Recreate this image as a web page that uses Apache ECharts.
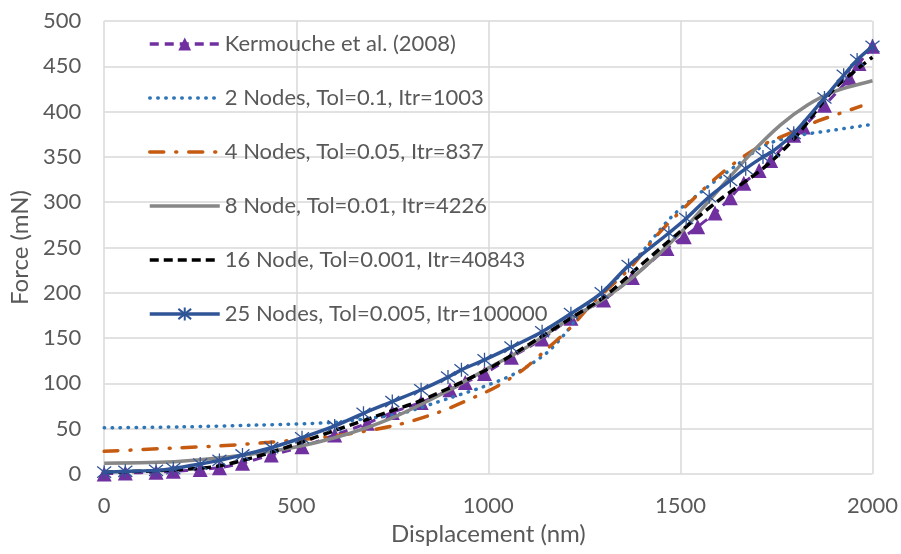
<!DOCTYPE html>
<html>
<head>
<meta charset="utf-8">
<script src="https://cdn.jsdelivr.net/npm/echarts@6/dist/echarts.min.js"></script>
<style>
  html, body { margin: 0; padding: 0; background: #fff; }
  #main { width: 901px; height: 554px; }
</style>
</head>
<body>
<div id="main"></div>
<script>
// values (displacement nm, force mN)
var kermoucheX = [0, 55, 135, 180, 250, 300, 360, 435, 515, 600, 685, 750, 825, 900, 940, 990, 1060, 1140, 1215, 1300, 1375, 1465, 1510, 1545, 1590, 1630, 1665, 1705, 1735, 1795, 1820, 1875, 1940, 1965, 2000];
var kermoucheY = [0, 1, 2, 3, 5, 7, 12, 21, 30, 43, 56, 68, 79, 93, 101, 111, 129, 149, 172, 192, 217, 249, 262, 273, 288, 305, 321, 335, 346, 374, 383, 407, 437, 453, 472];

var n2X = [0, 200, 400, 600, 700, 775, 900, 985, 1070, 1150, 1200, 1240, 1320, 1390, 1475, 1565, 1650, 1720, 1800, 1890, 2000];
var n2Y = [51, 52, 54, 57, 62, 67, 84, 96, 111, 133, 155, 177, 210, 240, 283, 315, 342, 363, 373, 379, 386];

var n4X = [0, 200, 300, 430, 600, 760, 870, 970, 1020, 1090, 1150, 1215, 1270, 1370, 1440, 1530, 1610, 1700, 1800, 1860, 1915, 1970];
var n4Y = [25, 29, 31, 35, 42, 54, 68, 86, 96, 115, 137, 162, 188, 228, 264, 302, 333, 360, 379, 390, 398, 406];

var n8X = [0, 200, 435, 600, 750, 900, 1000, 1100, 1200, 1300, 1390, 1500, 1600, 1680, 1760, 1830, 1900, 2000];
var n8Y = [12, 14, 25, 40, 62, 93, 117, 140, 168, 193, 222, 266, 314, 352, 385, 407, 422, 434];

var n16X = [0, 100, 200, 300, 435, 600, 750, 830, 1000, 1140, 1215, 1300, 1390, 1495, 1600, 1720, 1800, 1900, 2000];
var n16Y = [2, 3, 5, 9, 24, 48, 70, 82, 116, 152, 172, 195, 228, 266, 302, 339, 372, 425, 460];

var n25X = [0, 55, 135, 180, 250, 300, 360, 435, 515, 600, 675, 750, 825, 895, 930, 990, 1060, 1140, 1215, 1295, 1365, 1470, 1515, 1575, 1630, 1670, 1715, 1740, 1795, 1875, 1925, 1960, 2000];
var n25Y = [2, 3, 4, 6, 11, 15, 21, 29, 40, 53, 67, 80, 93, 107, 115, 126, 140, 157, 177, 200, 230, 266, 282, 306, 324, 337, 350, 356, 376, 415, 440, 457, 472];

var seriesNames = ['Kermouche et al. (2008)', '2 Nodes, Tol=0.1, Itr=1003', '4 Nodes, Tol=0.05, Itr=837',
  '8 Node, Tol=0.01, Itr=4226', '16 Node, Tol=0.001, Itr=40843', '25 Nodes, Tol=0.005, Itr=100000'];
var xTicks = [0, 500, 1000, 1500, 2000];
var yTicks = [0, 50, 100, 150, 200, 250, 300, 350, 400, 450, 500];

function pairs(xs, ys) {
  var out = [];
  for (var i = 0; i < xs.length; i++) {
    out.push([xs[i], ys[i]]);
  }
  return out;
}

var FONT = 'Lato';
var TXT = '#595959';
var starPath = 'path://M0,-10L0,10M-8,-8L8,8M-8,8L8,-8';

// legend entries: hide the symbol for the plain line series
var legendData = seriesNames.map(function (name, i) {
  if (i === 0 || i === 5) return { name: name };
  return { name: name, itemStyle: { opacity: 0 } };
});

var chart = echarts.init(document.getElementById('main'));

var option = {
  animation: false,
  backgroundColor: '#fff',
  textStyle: { fontFamily: FONT },
  grid: { left: 103, right: 25, top: 21, bottom: 80, containLabel: false },
  legend: {
    orient: 'vertical',
    left: 143,
    top: 28,
    itemWidth: 70,
    itemHeight: 16,
    itemGap: 32,
    itemTextGap: 6,
    lineStyle: { width: 3.5 },
    textStyle: { color: TXT, fontSize: 22, fontFamily: FONT, lineHeight: 22 },
    data: legendData
  },
  xAxis: {
    type: 'value',
    min: 0,
    max: 2000,
    interval: 500,
    name: 'Displacement (nm)',
    nameLocation: 'middle',
    nameGap: 48,
    nameTextStyle: { color: TXT, fontSize: 24, fontFamily: FONT },
    axisLine: { show: false },
    axisTick: { show: false },
    axisLabel: {
      color: TXT, fontSize: 22, fontFamily: FONT, margin: 21,
      formatter: function (v) { return xTicks.indexOf(v) >= 0 ? String(v) : ''; }
    },
    splitLine: { show: true, lineStyle: { color: '#d9d9d9', width: 1.5 } }
  },
  yAxis: {
    type: 'value',
    min: 0,
    max: 500,
    interval: 50,
    name: 'Force (mN)',
    nameLocation: 'middle',
    nameGap: 69,
    nameTextStyle: { color: TXT, fontSize: 24, fontFamily: FONT },
    axisLine: { show: false },
    axisTick: { show: false },
    axisLabel: {
      color: TXT, fontSize: 22, fontFamily: FONT, margin: 23,
      formatter: function (v) { return yTicks.indexOf(v) >= 0 ? String(v) : ''; }
    },
    splitLine: { show: true, lineStyle: { color: '#d9d9d9', width: 1.5 } }
  },
  series: [
    {
      name: seriesNames[0],
      type: 'line',
      smooth: 0.3,
      data: pairs(kermoucheX, kermoucheY),
      symbol: 'triangle',
      symbolSize: 15,
      itemStyle: { color: '#7030a0' },
      lineStyle: { color: '#7030a0', width: 3, type: [9, 6] },
      z: 2
    },
    {
      name: seriesNames[1],
      type: 'line',
      smooth: 0.3,
      data: pairs(n2X, n2Y),
      symbol: 'none',
      itemStyle: { color: '#2e75b6' },
      lineStyle: { color: '#2e75b6', width: 3.5, type: [0.5, 7.5], cap: 'round' },
      z: 3
    },
    {
      name: seriesNames[2],
      type: 'line',
      smooth: 0.3,
      data: pairs(n4X, n4Y),
      symbol: 'none',
      itemStyle: { color: '#c55a11' },
      lineStyle: { color: '#c55a11', width: 3.5, type: [14, 12, 1, 12], cap: 'round' },
      z: 3
    },
    {
      name: seriesNames[3],
      type: 'line',
      smooth: 0.3,
      data: pairs(n8X, n8Y),
      symbol: 'none',
      itemStyle: { color: '#878787' },
      lineStyle: { color: '#878787', width: 3.5 },
      z: 3
    },
    {
      name: seriesNames[4],
      type: 'line',
      smooth: 0.3,
      data: pairs(n16X, n16Y),
      symbol: 'none',
      itemStyle: { color: '#000' },
      lineStyle: { color: '#000', width: 3.5, type: [9, 5] },
      z: 4
    },
    {
      name: seriesNames[5],
      type: 'line',
      smooth: 0.3,
      data: pairs(n25X, n25Y),
      symbol: starPath,
      symbolSize: 14,
      itemStyle: { color: 'none', borderColor: '#2f5597', borderWidth: 1.3 },
      lineStyle: { color: '#2f5597', width: 3.5 },
      z: 5
    }
  ]
};

chart.setOption(option);
</script>
</body>
</html>
